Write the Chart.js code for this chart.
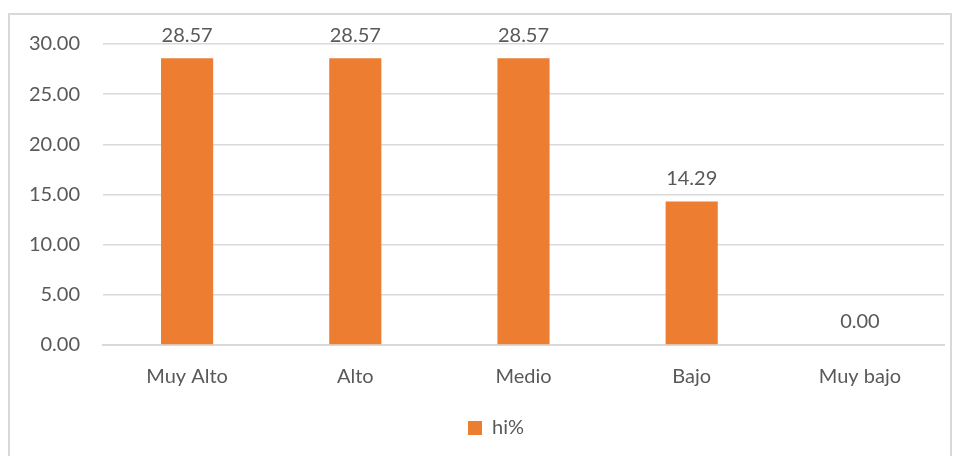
<!DOCTYPE html>
<html>
<head>
<meta charset="utf-8">
<script src="https://cdn.jsdelivr.net/npm/chart.js@4"></script>
<style>
  html, body { margin: 0; padding: 0; background: #fff; }
  #wrap { position: relative; width: 961px; height: 456px; overflow: hidden; }
  #frame { position: absolute; left: 8px; top: 13px; width: 944px; height: 460px; border: 2px solid #d9d9d9; box-sizing: border-box; }
  canvas { position: absolute; left: 0; top: 0; }
</style>
</head>
<body>
<div id="wrap">
  <div id="frame"></div>
  <canvas id="chart" width="961" height="456"></canvas>
</div>
<script>
const categories = ['Muy Alto', 'Alto', 'Medio', 'Bajo', 'Muy bajo'];
const hiValues = [28.57, 28.57, 28.57, 14.29, 0.00];
const yTicks = [0, 5, 10, 15, 20, 25, 30];

const textColor = '#595959';
const gridColor = '#d9d9d9';
const barColor = '#ed7d31';
const fontFamily = 'Lato, "Open Sans", sans-serif';

// value labels above each bar
const valueLabels = {
  id: 'valueLabels',
  afterDatasetsDraw(chart) {
    const ctx = chart.ctx;
    const meta = chart.getDatasetMeta(0);
    ctx.save();
    ctx.font = '20px ' + fontFamily;
    ctx.fillStyle = textColor;
    ctx.textAlign = 'center';
    ctx.textBaseline = 'bottom';
    meta.data.forEach((bar, i) => {
      ctx.fillText(hiValues[i].toFixed(2), bar.x, bar.y - 13);
    });
    ctx.restore();
  }
};

// legend sits a bit right of page centre, under the plot area
const legendShift = {
  id: 'legendShift',
  afterLayout(chart) {
    chart.legend.left += 24;
    chart.legend.right += 24;
  }
};

new Chart(document.getElementById('chart').getContext('2d'), {
  type: 'bar',
  data: {
    labels: categories,
    datasets: [{
      label: 'hi%',
      data: hiValues,
      backgroundColor: barColor,
      categoryPercentage: 1,
      barPercentage: 0.31
    }]
  },
  options: {
    responsive: false,
    animation: false,
    layout: { padding: { left: 0, right: 17, top: 44, bottom: 8 } },
    plugins: {
      legend: {
        position: 'bottom',
        labels: {
          color: textColor,
          font: { family: fontFamily, size: 20 },
          boxWidth: 14,
          boxHeight: 14,
          padding: 10
        }
      },
      tooltip: { enabled: false }
    },
    scales: {
      x: {
        grid: { display: false, drawTicks: false },
        border: { color: gridColor, width: 2 },
        ticks: { color: textColor, font: { family: fontFamily, size: 20 }, padding: 20 },
        afterFit(scale) { scale.height = 63; }
      },
      y: {
        min: 0,
        max: 30,
        afterBuildTicks(scale) { scale.ticks = yTicks.map(v => ({ value: v })); },
        grid: { color: gridColor, lineWidth: 1.5, drawTicks: false },
        border: { display: false },
        ticks: {
          color: textColor,
          font: { family: fontFamily, size: 20 },
          padding: 23,
          callback: v => Number(v).toFixed(2)
        },
        afterFit(scale) { scale.width = 103; }
      }
    }
  },
  plugins: [valueLabels, legendShift]
});
</script>
</body>
</html>
